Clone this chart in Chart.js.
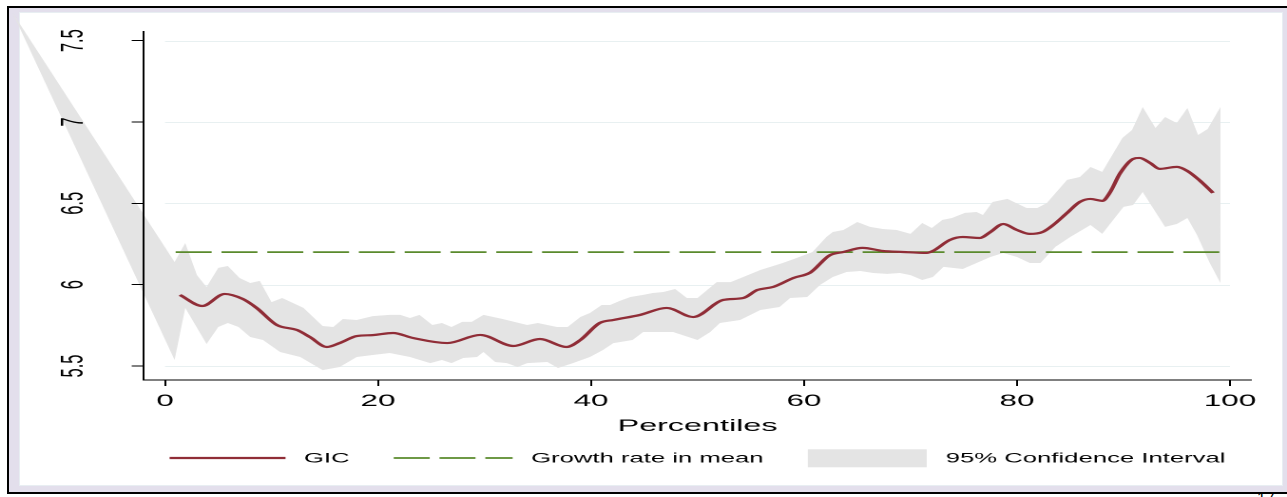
<!DOCTYPE html>
<html>
<head>
<meta charset="utf-8">
<script src="https://cdn.jsdelivr.net/npm/chart.js@4.4.1/dist/chart.umd.min.js"></script>
<style>
  html, body { margin: 0; padding: 0; background: #fff; }
  body { width: 1287px; height: 497px; position: relative; overflow: hidden;
         font-family: "Liberation Sans", Arial, sans-serif; }
  #frame { position: absolute; left: 7px; top: 6px; width: 1280px; height: 488px; box-sizing: border-box;
           border-top: 2px solid #000; border-left: 2px solid #000; border-bottom: 2px solid #000;
           background: #e3dfec; }
  #panel { position: absolute; left: 9.5px; top: 4px; width: 1264px; height: 474px; box-sizing: border-box;
           background: #fff; border: 1.5px solid #e8eef2; }
  #pageno { position: absolute; left: 1257px; top: 491px; font-size: 16px; line-height: 16px; color: #000; }
  #wrap { position: absolute; left: 0; top: 0; width: 677px; height: 497px;
          transform: scaleX(1.9010340); transform-origin: 0 0; }
  #wrap canvas { display: block; }
</style>
</head>
<body>
<div id="frame"><div id="panel"></div></div>
<div id="pageno">17</div>
<div id="wrap"><canvas id="gic" width="677" height="497"></canvas></div>
<script>
// Growth incidence curve by percentile
const gicPct = [1.4, 3.5, 5.6, 7.3, 8.6, 10.5, 12.4, 13.6, 15.2, 16.4, 18.0, 19.5, 21.4, 23.3, 26.5,
  29.6, 32.7, 35.2, 37.7, 39.0, 40.8, 42.1, 44.6, 47.1, 49.6, 52.4, 54.3, 55.6, 57.1, 59.0, 60.6,
  62.4, 63.7, 65.5, 67.4, 69.3, 71.5, 72.1, 73.7, 74.9, 76.5, 77.5, 78.7, 80.0, 81.2, 82.4, 83.4,
  84.7, 85.9, 86.9, 88.0, 88.7, 89.7, 90.9, 91.5, 92.5, 93.4, 95.0, 96.0, 97.2, 98.4];
const gic = [5.937, 5.869, 5.943, 5.912, 5.857, 5.752, 5.721, 5.678, 5.617, 5.641, 5.684, 5.690, 5.703, 5.672, 5.641,
  5.691, 5.623, 5.666, 5.617, 5.660, 5.764, 5.783, 5.814, 5.857, 5.801, 5.906, 5.918, 5.967, 5.986, 6.041, 6.075,
  6.180, 6.201, 6.226, 6.207, 6.201, 6.195, 6.207, 6.275, 6.293, 6.287, 6.324, 6.373, 6.336, 6.312, 6.324, 6.367,
  6.441, 6.509, 6.527, 6.515, 6.564, 6.687, 6.773, 6.779, 6.748, 6.712, 6.724, 6.699, 6.638, 6.564];

// Growth rate in mean
const meanPct = [1, 99];
const meanGrowth = [6.2, 6.2];

// 95% confidence interval: upper and lower bounds
const ciUpperPct = [-14.3, 0.9, 1.9, 3.0, 3.9, 5.0, 5.9, 7.0, 8.0, 8.9, 10.0, 11.0, 13.0, 14.8, 15.8, 16.7,
  18.0, 19.5, 21.1, 22.1, 23.0, 23.9, 25.1, 26.0, 26.9, 27.9, 28.8, 29.9, 31.7, 34.0, 35.0, 36.8, 37.8,
  39.0, 39.9, 41.0, 41.8, 42.7, 43.7, 44.9, 45.8, 46.8, 47.9, 49.0, 50.0, 51.8, 53.1, 54.3, 55.9, 58.0,
  59.3, 60.8, 62.1, 62.7, 63.7, 65.0, 66.2, 67.4, 68.7, 70.0, 71.1, 72.0, 73.0, 73.9, 75.1, 76.2, 76.8,
  77.7, 79.1, 80.9, 81.9, 82.8, 84.7, 85.9, 86.9, 88.0, 89.9, 90.8, 91.8, 93.0, 93.9, 95.0, 96.0, 97.0,
  97.9, 99.1];
const ciUpper = [7.67, 6.139, 6.256, 6.059, 5.986, 6.103, 6.115, 6.041, 6.010, 6.023, 5.893, 5.918, 5.857, 5.746, 5.740, 5.789,
  5.783, 5.807, 5.814, 5.814, 5.795, 5.814, 5.752, 5.764, 5.740, 5.771, 5.771, 5.814, 5.789, 5.752, 5.764, 5.740, 5.740,
  5.801, 5.826, 5.875, 5.875, 5.900, 5.924, 5.937, 5.949, 5.955, 5.973, 5.918, 5.918, 6.016, 6.016, 6.047, 6.090, 6.133,
  6.164, 6.201, 6.293, 6.324, 6.336, 6.385, 6.355, 6.342, 6.336, 6.312, 6.379, 6.348, 6.398, 6.410, 6.441, 6.447, 6.428,
  6.508, 6.527, 6.471, 6.471, 6.502, 6.644, 6.662, 6.723, 6.693, 6.902, 6.951, 7.092, 6.963, 7.031, 6.994, 7.086, 6.920,
  6.957, 7.092];
const ciLowerPct = [-14.3, 0.9, 1.9, 3.9, 5.0, 5.9, 6.9, 8.0, 9.2, 10.8, 12.7, 14.8, 16.4, 18.0, 19.5, 21.1,
  23.0, 24.9, 26.0, 26.9, 28.0, 29.3, 29.9, 31.0, 32.1, 33.1, 34.0, 35.9, 36.9, 38.3, 39.9, 41.1, 42.1,
  43.9, 44.9, 47.7, 50.0, 51.2, 52.1, 54.0, 55.9, 57.7, 58.7, 60.3, 61.5, 62.7, 64.0, 65.3, 66.5, 67.8,
  69.0, 70.0, 71.1, 72.1, 73.1, 74.9, 76.2, 77.5, 78.7, 80.0, 81.2, 82.2, 83.6, 85.0, 86.9, 88.0, 90.0,
  90.9, 91.8, 93.9, 95.0, 96.0, 96.9, 98.1, 99.1];
const ciLower = [7.67, 5.537, 5.857, 5.635, 5.740, 5.764, 5.740, 5.678, 5.660, 5.586, 5.555, 5.475, 5.494, 5.555, 5.568, 5.580,
  5.555, 5.518, 5.537, 5.518, 5.549, 5.555, 5.586, 5.525, 5.518, 5.494, 5.518, 5.525, 5.488, 5.518, 5.555, 5.598, 5.641,
  5.660, 5.709, 5.709, 5.660, 5.709, 5.764, 5.783, 5.844, 5.863, 5.918, 5.924, 5.998, 6.047, 6.078, 6.084, 6.072, 6.066,
  6.072, 6.059, 6.029, 6.047, 6.109, 6.096, 6.133, 6.170, 6.195, 6.170, 6.133, 6.133, 6.232, 6.293, 6.367, 6.312, 6.478,
  6.490, 6.570, 6.355, 6.373, 6.410, 6.305, 6.133, 6.010];

// Axis ticks
const xTickValues = [0, 20, 40, 60, 80, 100];
const xTickLabels = ['0', '20', '40', '60', '80', '100'];
const yTickValues = [5.5, 6, 6.5, 7, 7.5];
const yTickLabels = ['5.5', '6', '6.5', '7', '7.5'];

const seriesNames = ['GIC', 'Growth rate in mean', '95% Confidence Interval'];

// ---------------------------------------------------------------------------
const RED = '#902d37';
const GREEN = '#5a8a2c';
const BAND = '#e4e4e4';
const GRID = '#e8f0f1';
const FONT = '"Liberation Sans", Arial, sans-serif';

// The canvas is widened by CSS; horizontal lengths below are divided by this factor.
const stretch = 1287 / 677;
const sx = v => v / stretch;

const pairs = (xs, ys) => xs.slice(0, Math.min(xs.length, ys.length)).map((x, i) => ({ x, y: ys[i] }));

// closed outline of the band: along the upper bound, back along the lower bound
const ciOutline = pairs(ciUpperPct, ciUpper).concat(pairs(ciLowerPct, ciLower).reverse());

Chart.defaults.font.family = FONT;
Chart.defaults.color = '#000';

// Grid lines and the confidence band go underneath the axes and their labels.
const backdrop = {
  id: 'backdrop',
  beforeDraw(chart) {
    const { ctx, scales: { x, y } } = chart;
    ctx.save();
    // horizontal grid lines spanning the 0-100 percentile range
    const gx0 = x.getPixelForValue(xTickValues[0]);
    const gx1 = x.getPixelForValue(xTickValues[xTickValues.length - 1]);
    ctx.strokeStyle = GRID;
    ctx.lineWidth = 1;
    yTickValues.forEach(v => {
      const py = Math.round(y.getPixelForValue(v)) + 0.5;
      ctx.beginPath(); ctx.moveTo(gx0, py); ctx.lineTo(gx1, py); ctx.stroke();
    });
    // confidence band, filled from the dataset's own line element (not clipped to the plot area)
    const idx = chart.data.datasets.findIndex(d => d.label === seriesNames[2]);
    const meta = chart.getDatasetMeta(idx);
    if (meta && meta.dataset) {
      ctx.beginPath();
      meta.dataset.path(ctx);
      ctx.closePath();
      ctx.fillStyle = BAND;
      ctx.fill();
    }
    ctx.restore();
  }
};

// legend row under the axis title
const legendRow = [
  { kind: 'line', color: RED, width: 2.2, dash: [], x0: 169.6, x1: 285.5, tx: 304 },
  { kind: 'line', color: GREEN, width: 1.8, dash: [sx(36), sx(9.8)], x0: 393.7, x1: 512.6, tx: 531 },
  { kind: 'box', color: BAND, x0: 807.8, x1: 926.7, tx: 945.8 }
];
const legendY = 458;

const legendPlugin = {
  id: 'legendRow',
  afterDraw(chart) {
    const ctx = chart.ctx;
    ctx.save();
    legendRow.forEach((item, i) => {
      if (item.kind === 'line') {
        ctx.strokeStyle = item.color;
        ctx.lineWidth = item.width;
        ctx.setLineDash(item.dash);
        ctx.beginPath();
        ctx.moveTo(sx(item.x0), legendY);
        ctx.lineTo(sx(item.x1), legendY);
        ctx.stroke();
        ctx.setLineDash([]);
      } else {
        ctx.fillStyle = item.color;
        ctx.fillRect(sx(item.x0), 449.3, sx(item.x1 - item.x0), 18);
      }
      ctx.fillStyle = '#000';
      ctx.font = '13.5px ' + FONT;
      ctx.textAlign = 'left';
      ctx.textBaseline = 'middle';
      ctx.fillText(seriesNames[i], sx(item.tx), legendY + 1);
    });
    ctx.restore();
  }
};

new Chart(document.getElementById('gic'), {
  type: 'line',
  data: {
    datasets: [
      {
        label: seriesNames[0],
        data: pairs(gicPct, gic),
        borderColor: RED,
        borderWidth: 2.2,
        cubicInterpolationMode: 'monotone',
        pointRadius: 0,
        fill: false
      },
      {
        label: seriesNames[1],
        data: pairs(meanPct, meanGrowth),
        borderColor: GREEN,
        borderWidth: 1.8,
        borderDash: [sx(36), sx(9.8)],
        pointRadius: 0,
        fill: false
      },
      {
        label: seriesNames[2],
        data: ciOutline,
        backgroundColor: BAND,
        borderColor: BAND,
        showLine: false,
        pointRadius: 0,
        fill: false,
        clip: false
      }
    ]
  },
  options: {
    responsive: false,
    animation: false,
    devicePixelRatio: 2,
    layout: { padding: { left: 0, top: 31.7, right: 18.78, bottom: 57 } },
    plugins: { legend: { display: false }, tooltip: { enabled: false } },
    scales: {
      x: {
        type: 'linear',
        min: -2,
        max: 102,
        afterBuildTicks: s => { s.ticks = xTickValues.map(v => ({ value: v })); },
        afterFit: s => { s.height = 60; },
        ticks: {
          autoSkip: false, maxRotation: 0, minRotation: 0, padding: 5.4,
          font: { size: 16.5 }, color: '#000',
          callback: (v, i) => xTickLabels[i]
        },
        grid: { drawOnChartArea: false, drawTicks: true, tickLength: 6, color: '#000', lineWidth: 1 },
        border: { display: true, color: '#000', width: 1 },
        title: { display: true, text: 'Percentiles', font: { size: 17 }, color: '#000', padding: { top: 0, bottom: 3.5 } }
      },
      y: {
        type: 'linear',
        min: 5.414,
        max: 7.555,
        afterBuildTicks: s => { s.ticks = yTickValues.map(v => ({ value: v })); },
        afterFit: s => { s.width = 75.59; },
        ticks: {
          autoSkip: false, minRotation: 90, maxRotation: 90, crossAlign: 'center', padding: 18.9,
          font: { size: 16.5 }, color: '#000',
          callback: (v, i) => yTickLabels[i]
        },
        grid: { drawOnChartArea: false, drawTicks: true, tickLength: sx(12), color: '#000', lineWidth: 1 },
        border: { display: true, color: '#000', width: 1 }
      }
    }
  },
  plugins: [backdrop, legendPlugin]
});
</script>
</body>
</html>
